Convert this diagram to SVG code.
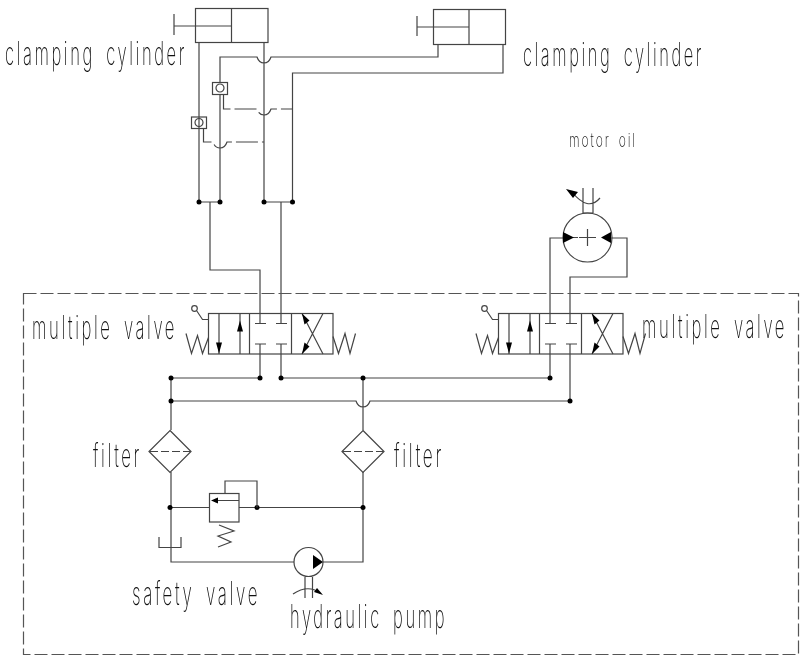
<svg xmlns="http://www.w3.org/2000/svg" width="800" height="659" viewBox="0 0 800 659">
<style>
.l{fill:none;stroke:#444;stroke-width:1.2}
.d{fill:none;stroke:#444;stroke-width:1.2;stroke-dasharray:22 4}
.b{fill:none;stroke:#555;stroke-width:1.2;stroke-dasharray:13 4}
.f{fill:#000;stroke:none}
.t{font-family:Inter,Roboto,"Liberation Sans",sans-serif;font-weight:200;fill:#111;font-size:32px;letter-spacing:5px;word-spacing:8px;filter:url(#gray)}
</style>
<defs>
<filter id="gray" x="-5%" y="-20%" width="110%" height="140%"><feOffset dx="0" dy="0"/></filter>
<g id="valve">
<rect class="l" x="0" y="0" width="124.5" height="40.5"/>
<path class="l" d="M41 0V40.5M83 0V40.5M10.500 0V40.500M31.500 0V40.500M93.500 0L114.500 40.500M114.500 0L93.500 40.500"/>
<path class="f" d="M10.500 40L7.500 29H13.500ZM31.500 7L34.500 18H28.500ZM93.500 0L101 7 96 11ZM93.500 40.500L96 29 101 33Z"/>
<path class="l" d="M46.500 10H57.500M67.500 10H78.500M46.500 30.500H57.500M67.500 30.500H78.500"/>
<path class="l" d="M0 6H-6L-12 -3"/>
<circle class="l" cx="-14" cy="-5" r="2.800"/>
<path class="l" d="M-22.500 20L-17 40 -11 22-6 40 0 24M124.500 23L130 40 136.500 20 141.500 40 147 20"/>
</g>
<g id="cv"><circle class="l" cx="0" cy="0" r="4"/></g>
<g id="diamond">
<path class="l" d="M0 -21L21 0 0 21 -21 0Z"/>
<path class="l" stroke-dasharray="8 3" d="M-20 0H20"/>
</g>
</defs>
<g id="connectors">
<path class="l" d="M199 43V202M220 82V57H257Q259 63 264 63T271 57H438V44M264 43V202M292.500 202V73H503V44"/>
<path class="l" d="M220 94V202"/>
<path class="d" d="M223.500 94V109H257Q259 115 264 115T271 109H292.500"/>
<path class="d" d="M203.500 128V142H213Q215 148 220 148T227 142H264"/>
<path class="l" d="M199 202H220M264 202H292.500M210 202V270H260V323.500M281 202V323.500"/>
<path class="l" d="M260 344V378M281 344V378M171 378H260M281 378H550M171 378V430M363 378V430M171 401H356Q358 407 363 407T370 401H570"/>
<path class="l" d="M550 344V378M570 344V401M550 323.500V238H563M570 323.500V277H627V238H611"/>
<path class="l" d="M171 472V562H294M323 562H363V472M170 507.500H209.500M239 507.500H363"/>
</g>
<g id="dots" class="f">
<circle cx="199" cy="202" r="2.500"/><circle cx="220" cy="202" r="2.500"/><circle cx="264" cy="202" r="2.500"/><circle cx="292.500" cy="202" r="2.500"/>
<circle cx="171" cy="378" r="2.500"/><circle cx="260" cy="378" r="2.500"/><circle cx="281" cy="378" r="2.500"/><circle cx="363" cy="378" r="2.500"/><circle cx="550" cy="378" r="2.500"/>
<circle cx="171" cy="401" r="2.500"/><circle cx="570" cy="401" r="2.500"/>
<circle cx="170" cy="507.500" r="2.500"/><circle cx="257" cy="507.500" r="2.500"/><circle cx="363" cy="507.500" r="2.500"/>
</g>
<g id="boundary"><rect class="b" x="23.500" y="293.500" width="775" height="361"/></g>
<g id="cylinder-left">
<rect class="l" x="195.500" y="8.500" width="72.500" height="34"/>
<path class="l" d="M231.500 8.500V42.500M231.500 26H174M174 14V35"/>
<text class="t" x="5" y="65" textLength="182" lengthAdjust="spacingAndGlyphs">clamping cylinder</text>
</g>
<g id="cylinder-right">
<rect class="l" x="433.500" y="9.500" width="72" height="35"/>
<path class="l" d="M469 9.500V44.500M469 27H417M417 16V36"/>
<text class="t" x="523" y="66" textLength="181" lengthAdjust="spacingAndGlyphs">clamping cylinder</text>
</g>
<g id="check-upper">
<rect fill="#fff" class="l" x="212.500" y="82.500" width="15" height="12"/>
<use href="#cv" x="220" y="88"/>
</g>
<g id="check-lower">
<rect fill="#fff" class="l" x="191.500" y="117" width="15" height="11.500"/>
<use href="#cv" x="199" y="122.500"/>
</g>
<g id="motor">
<circle class="l" cx="587.500" cy="237.500" r="24.500"/>
<path class="l" d="M579 237.500H596M587.500 229V246M583 188V213M593 188V213M583 213H593M572 192Q588 212 600 198M573 237.500H578"/>
<path class="f" d="M566 189L578 192 573 198ZM563 232V243L574 237.500ZM611 232V243L601 237.500Z"/>
<text class="t" style="font-size:19px;letter-spacing:3px;word-spacing:4px" x="569" y="147" textLength="68" lengthAdjust="spacingAndGlyphs">motor oil</text>
</g>
<g id="valve-left">
<use href="#valve" x="208.500" y="313.500"/>
<text class="t" x="32" y="339" textLength="145" lengthAdjust="spacingAndGlyphs">multiple valve</text>
</g>
<g id="valve-right">
<use href="#valve" x="498.500" y="313.500"/>
<text class="t" x="642" y="338" textLength="145" lengthAdjust="spacingAndGlyphs">multiple valve</text>
</g>
<g id="filter-left">
<use href="#diamond" x="170" y="451.500"/>
<text class="t" x="93" y="467" textLength="49" lengthAdjust="spacingAndGlyphs">filter</text>
</g>
<g id="filter-right">
<use href="#diamond" x="363" y="451.500"/>
<text class="t" x="394" y="467" textLength="50" lengthAdjust="spacingAndGlyphs">filter</text>
</g>
<g id="safety-valve">
<rect class="l" x="209.500" y="493.500" width="29.500" height="28.500"/>
<path class="l" d="M225 493.500V481H257V507.500M212 500.500H239M219 525L234 531 218 536 231 542 218 547"/>
<path class="f" d="M211 500.500L218 497.500V503.500Z"/><circle class="f" cx="216" cy="500.500" r="1.800"/>
<text class="t" x="132" y="605" textLength="128" lengthAdjust="spacingAndGlyphs">safety valve</text>
</g>
<g id="tank"><path class="l" d="M159 537V547.500H181V537"/></g>
<g id="pump">
<circle class="l" cx="308.500" cy="562" r="14.500"/>
<path class="f" d="M313 555V569L323 562Z"/>
<path class="l" d="M305 577V598M312.500 577V598M293 594Q308 584 320 593"/>
<path class="f" d="M323 595L314 592 317 588Z"/>
<text class="t" x="290" y="628" textLength="157" lengthAdjust="spacingAndGlyphs">hydraulic pump</text>
</g>
</svg>
